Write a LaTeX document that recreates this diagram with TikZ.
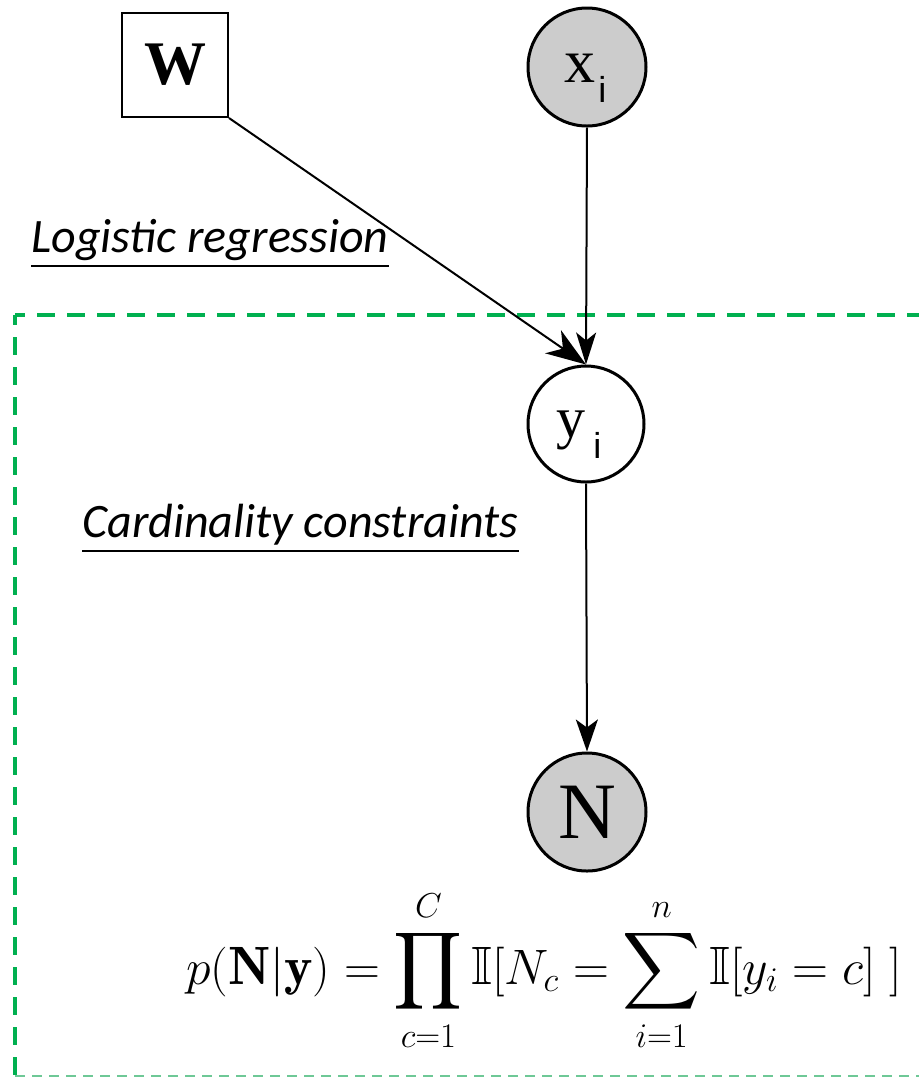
\documentclass[tikz,border=0pt]{standalone}
\usepackage{fontspec}
\usepackage{amssymb}
\usetikzlibrary{arrows.meta}
\newfontfamily\calfont{Carlito}
\newfontfamily\serffont{Liberation Serif}
\newfontfamily\helvfont{Liberation Sans}
\definecolor{boxgreen}{RGB}{0,176,80}
\definecolor{boxgreenlight}{RGB}{110,200,150}
\begin{document}
\begin{tikzpicture}[x=0.5pt,y=-0.5pt,
  obs/.style={circle, draw, line width=1.5pt, fill=black!20, minimum size=59pt, inner sep=0pt},
  latent/.style={circle, draw, line width=1.5pt, fill=white, minimum size=58pt, inner sep=0pt},
  param/.style={rectangle, draw, line width=1pt, minimum width=53pt, minimum height=52pt, inner sep=0pt},
  edge/.style={line width=1pt},
  lbl/.style={anchor=base west, inner sep=0pt, font=\calfont\itshape\fontsize{24}{28}\selectfont},
  uline/.style={line width=1pt},
  txt/.style={anchor=base west, inner sep=0pt},
  gline/.style={draw=boxgreen, line width=2pt, dash pattern=on 9pt off 6pt, dash phase=4pt},
  gbot/.style={draw=boxgreenlight, line width=0.9pt, dash pattern=on 5pt off 3.5pt}
]
\useasboundingbox (0,0) rectangle (918,1078);

% green dashed frame
\coordinate (c1) at (15,315);
\coordinate (c2) at (945,315);
\coordinate (c3) at (15,1076);
\coordinate (c4) at (945,1076);
\draw[gline] (c1) -- (c2);
\draw[gline] (c1) -- (c3);
\draw[gbot] (c3) -- (c4);

% nodes
\node[param] (w) at (175,65) {\serffont\bfseries\fontsize{31}{31}\selectfont W};
\node[obs] (xi) at (587,67) {};
\node[txt] (xl) at (564,82) {\serffont\fontsize{31}{31}\selectfont x};
\node[txt] (xs) at (598,102) {\helvfont\fontsize{18}{18}\selectfont i};

\node[latent] (yi) at (586,424) {};
\node[txt] (yl) at (556,437) {\serffont\fontsize{29}{29}\selectfont y};
\node[txt] (ys) at (593,458) {\helvfont\fontsize{18}{18}\selectfont i};

\node[obs] (n) at (587,812) {\serffont\fontsize{40}{40}\selectfont N};

% connectors
\draw[edge, -{Stealth[length=20pt,width=14pt,inset=6pt]}] (w.south east) -- (yi.north);
\draw[edge, -{Stealth[length=16pt,width=10pt,inset=4pt]}] (xi.south) -- (yi.north);
\draw[edge, -{Stealth[length=16pt,width=11pt,inset=4pt]}] (yi.south) -- (n.north);

% labels
\node[lbl] (lr) at (31,252) {Logistic regression};
\draw[uline] ([yshift=-7pt]lr.base west) -- ([yshift=-7pt]lr.base east);
\node[lbl] (cc) at (82,537) {Cardinality constraints};
\draw[uline] ([yshift=-7pt]cc.base west) -- ([yshift=-7pt]cc.base east);

% formula
\node[anchor=base, inner sep=0pt] (eq) at (544,984) {\fontsize{27}{31}\selectfont $\displaystyle p(\mathbf{N}|\mathbf{y}) = \prod_{c=1}^{C}\mathbb{I}[N_c = \sum_{i=1}^{n}\mathbb{I}[y_i = c]\;]$};
\end{tikzpicture}
\end{document}
